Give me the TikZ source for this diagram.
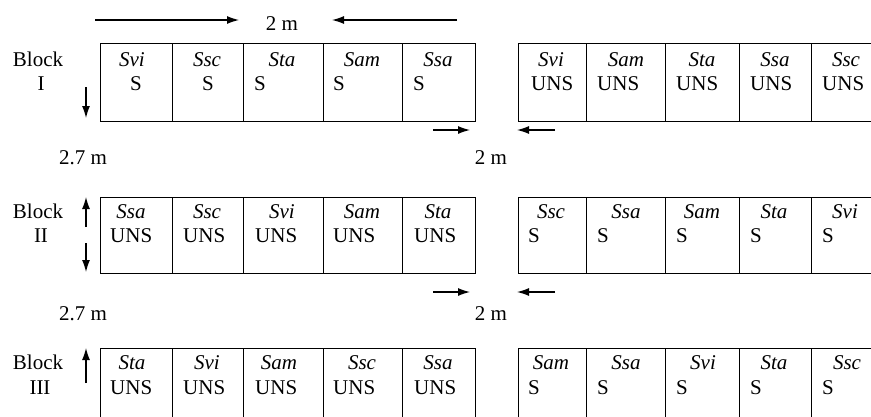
\documentclass[tikz,border=0pt]{standalone}
\usepackage{fontspec}
\setmainfont{Liberation Serif}
\usetikzlibrary{arrows.meta}
\begin{document}
\begin{tikzpicture}[x=1pt,y=-1pt,
  font=\fontsize{21}{25}\selectfont,
  cell/.style={draw, line width=1pt, inner sep=0pt, outer sep=0pt, anchor=north west},
  lbl/.style={anchor=base, inner sep=0pt},
  lft/.style={anchor=base west, inner sep=0pt},
  dim/.style={line width=1.2pt, -{Latex[length=12pt,width=8pt]}}]
\useasboundingbox (0,0) rectangle (871,416);
\clip (0,0) rectangle (871,416);
% cells
\foreach \b/\top/\h in {1/43/78, 2/197/76, 3/348/76}{
  \foreach \c/\xa/\w in {1/100/72, 2/172/71, 3/243/80, 4/323/79, 5/402/73}{
    \node[cell, minimum width=\w, minimum height=\h] (L\b\c) at (\xa,\top) {};
  }
  \foreach \c/\xa/\w in {1/518/68, 2/586/79, 3/665/74, 4/739/72, 5/811/79}{
    \node[cell, minimum width=\w, minimum height=\h] (R\b\c) at (\xa,\top) {};
  }
}
% Block I
\foreach \c/\nm/\cx/\s/\sx in {1/Svi/132/S/130, 2/Ssc/207/S/202, 3/Sta/282/S/254, 4/Sam/362/S/333, 5/Ssa/438/S/413}{
  \node[lbl] (nL1\c) at (\cx,66) {\textit{\nm}};
  \node[lft] (sL1\c) at (\sx,90) {\s};
}
\foreach \c/\nm/\cx/\s/\sx in {1/Svi/551/UNS/531, 2/Sam/626/UNS/597, 3/Sta/702/UNS/676, 4/Ssa/775/UNS/750, 5/Ssc/846/UNS/822}{
  \node[lbl] (nR1\c) at (\cx,66) {\textit{\nm}};
  \node[lft] (sR1\c) at (\sx,90) {\s};
}
% Block II
\foreach \c/\nm/\cx/\s/\sx in {1/Ssa/131/UNS/110, 2/Ssc/207/UNS/183, 3/Svi/282/UNS/255, 4/Sam/362/UNS/333, 5/Sta/438/UNS/414}{
  \node[lbl] (nL2\c) at (\cx,218) {\textit{\nm}};
  \node[lft] (sL2\c) at (\sx,242) {\s};
}
\foreach \c/\nm/\cx/\s/\sx in {1/Ssc/551/S/528, 2/Ssa/626/S/597, 3/Sam/702/S/676, 4/Sta/774/S/750, 5/Svi/845/S/822}{
  \node[lbl] (nR2\c) at (\cx,218) {\textit{\nm}};
  \node[lft] (sR2\c) at (\sx,242) {\s};
}
% Block III
\foreach \c/\nm/\cx/\s/\sx in {1/Sta/132/UNS/110, 2/Svi/207/UNS/183, 3/Sam/279/UNS/255, 4/Ssc/362/UNS/333, 5/Ssa/438/UNS/414}{
  \node[lbl] (nL3\c) at (\cx,369) {\textit{\nm}};
  \node[lft] (sL3\c) at (\sx,394) {\s};
}
\foreach \c/\nm/\cx/\s/\sx in {1/Sam/551/S/528, 2/Ssa/626/S/597, 3/Svi/703/S/676, 4/Sta/774/S/750, 5/Ssc/847/S/822}{
  \node[lbl] (nR3\c) at (\cx,369) {\textit{\nm}};
  \node[lft] (sR3\c) at (\sx,394) {\s};
}
% block labels
\node[lbl] (blk1) at (38,66) {Block};
\node[lbl] (num1) at (41,90) {I};
\node[lbl] (blk2) at (38,218) {Block};
\node[lbl] (num2) at (41,242) {II};
\node[lbl] (blk3) at (38,369) {Block};
\node[lbl] (num3) at (40,394) {III};
% top dimension
\coordinate (ta) at (95,20);  \coordinate (tb) at (239,20);
\coordinate (tc) at (457,20); \coordinate (td) at (332,20);
\draw[dim] (ta) -- (tb);
\draw[dim] (tc) -- (td);
\node[lbl] (top2m) at (282,30) {2 m};
% vertical dimensions
\coordinate (v1a) at (86,87);  \coordinate (v1b) at (86,118);
\coordinate (v2a) at (86,227); \coordinate (v2b) at (86,197);
\coordinate (v3a) at (86,243); \coordinate (v3b) at (86,272);
\coordinate (v4a) at (86,383); \coordinate (v4b) at (86,348);
\draw[dim] (v1a) -- (v1b);
\draw[dim] (v2a) -- (v2b);
\draw[dim] (v3a) -- (v3b);
\draw[dim] (v4a) -- (v4b);
\node[lbl] (d27a) at (83,164) {2.7 m};
\node[lbl] (d27b) at (83,320) {2.7 m};
% gap dimensions
\coordinate (g1a) at (433,130); \coordinate (g1b) at (470,130);
\coordinate (g1c) at (555,130); \coordinate (g1d) at (517,130);
\coordinate (g2a) at (433,292); \coordinate (g2b) at (470,292);
\coordinate (g2c) at (555,292); \coordinate (g2d) at (517,292);
\draw[dim] (g1a) -- (g1b);
\draw[dim] (g1c) -- (g1d);
\draw[dim] (g2a) -- (g2b);
\draw[dim] (g2c) -- (g2d);
\node[lbl] (gap1) at (491,164) {2 m};
\node[lbl] (gap2) at (491,320) {2 m};
\end{tikzpicture}
\end{document}
